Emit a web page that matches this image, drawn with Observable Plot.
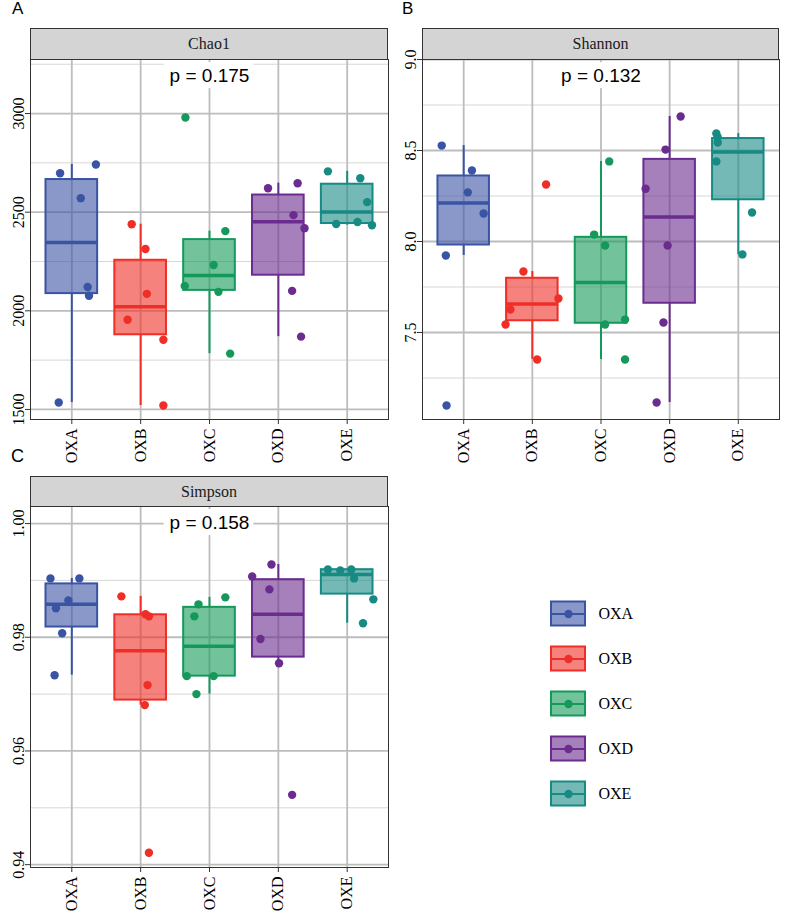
<!DOCTYPE html>
<html>
<head>
<meta charset="utf-8">
<script src="https://cdn.jsdelivr.net/npm/d3@7"></script>
<script src="https://cdn.jsdelivr.net/npm/@observablehq/plot@0.6"></script>
<style>
  html, body { margin: 0; padding: 0; background: #fff; }
  #root { position: relative; width: 785px; height: 917px; overflow: hidden; background: #fff; }
  .strip { position: absolute; box-sizing: border-box; background: #d4d4d4; border: 1px solid #333;
           font-family: "Liberation Serif", serif; font-size: 16px; color: #1a1a1a;
           display: flex; align-items: center; justify-content: center; }
  .tag { position: absolute; font-family: "Liberation Sans", Arial, sans-serif; line-height: 1; color: #000; }
</style>
</head>
<body>
<div id="root"></div>
<script>
// ---------------- data ----------------
const groups = ["OXA", "OXB", "OXC", "OXD", "OXE"];
const groupColors = ["#3A54A4", "#EE2E27", "#14995A", "#6A2C8E", "#178A84"];
const metricNames = ["Chao1", "Shannon", "Simpson"];
const panelTags = ["A", "B", "C"];
const pLabels = ["p = 0.175", "p = 0.132", "p = 0.158"];
const pLabelY = [3190, 8.909, 1.0001];

// Chao1 values per group (6 samples each) and their horizontal jitter (category units)
const chao1 = [
  [2697, 2742, 2571, 2121, 2076, 1535],
  [2439, 2313, 2086, 1955, 1853, 1520],
  [2980, 2404, 2232, 2126, 2096, 1783],
  [2621, 2647, 2485, 2419, 2101, 1869],
  [2707, 2672, 2551, 2440, 2450, 2434]
];
const chao1Jitter = [
  [-0.17, 0.35, 0.13, 0.23, 0.25, -0.19],
  [-0.13, 0.07, 0.09, -0.19, 0.33, 0.33],
  [-0.35, 0.23, 0.06, -0.36, 0.13, 0.30],
  [-0.15, 0.28, 0.22, 0.38, 0.20, 0.33],
  [-0.28, 0.19, 0.29, -0.16, 0.15, 0.36]
];
const shannon = [
  [8.527, 8.39, 8.27, 8.154, 7.923, 7.099],
  [8.313, 7.835, 7.687, 7.626, 7.544, 7.352],
  [8.44, 8.038, 7.978, 7.571, 7.544, 7.352],
  [8.687, 8.505, 8.29, 7.978, 7.555, 7.115],
  [8.593, 8.573, 8.544, 8.44, 8.159, 7.929]
];
const shannonJitter = [
  [-0.32, 0.12, 0.06, 0.29, -0.26, -0.25],
  [0.20, -0.13, 0.38, -0.32, -0.39, 0.07],
  [0.12, -0.10, 0.06, 0.35, 0.06, 0.35],
  [0.16, -0.06, -0.35, -0.03, -0.09, -0.19],
  [-0.32, -0.30, -0.30, -0.32, 0.20, 0.06]
];
const simpson = [
  [0.99035, 0.99035, 0.98649, 0.98509, 0.9807, 0.97333],
  [0.98719, 0.98404, 0.98368, 0.97158, 0.96807, 0.9421],
  [0.98702, 0.98579, 0.98368, 0.97316, 0.97316, 0.97],
  [0.99281, 0.9907, 0.98842, 0.9797, 0.97544, 0.95228],
  [0.99193, 0.99175, 0.99193, 0.99035, 0.98667, 0.98246]
];
const simpsonJitter = [
  [-0.31, 0.11, -0.05, -0.23, -0.14, -0.25],
  [-0.28, 0.07, 0.12, 0.10, 0.06, 0.12],
  [0.23, -0.16, -0.22, -0.33, 0.06, -0.19],
  [-0.10, -0.38, -0.13, -0.26, 0.01, 0.20],
  [-0.28, -0.10, 0.06, 0.10, 0.38, 0.23]
];

// axis ticks
const chao1Ticks = [1500, 2000, 2500, 3000];
const chao1Minor = [1750, 2250, 2750, 3250];
const chao1TickLabels = ["1500", "2000", "2500", "3000"];
const shannonTicks = [7.5, 8.0, 8.5, 9.0];
const shannonMinor = [7.25, 7.75, 8.25, 8.75];
const shannonTickLabels = ["7.5", "8.0", "8.5", "9.0"];
const simpsonTicks = [0.94, 0.96, 0.98, 1.00];
const simpsonMinor = [0.95, 0.97, 0.99];
const simpsonTickLabels = ["0.94", "0.96", "0.98", "1.00"];

// ---------------- layout ----------------
const layouts = [
  {left: 0,   top: 58,  width: 390, mL: 30, mR: 2, mT: 1, areaH: 360, mB: 56, domain: [1449, 3274],
   strip: {left: 30, top: 28, w: 358, h: 32}, tag: {left: 12, top: 0, size: 17}},
  {left: 390, top: 58,  width: 395, mL: 32, mR: 6, mT: 1, areaH: 360, mB: 56, domain: [7.022, 9.0],
   strip: {left: 422, top: 28, w: 357, h: 32}, tag: {left: 402, top: 0, size: 17}},
  {left: 0,   top: 505, width: 390, mL: 30, mR: 2, mT: 1, areaH: 361, mB: 50, domain: [0.9395, 1.003],
   strip: {left: 30, top: 476, w: 358, h: 31}, tag: {left: 11, top: 447, size: 18}}
];

const root = document.getElementById("root");
const serifStyle = {fontFamily: "'Liberation Serif', 'Times New Roman', serif", fontSize: "16px",
                    color: "#000", background: "transparent", overflow: "visible"};

function boxStats(values) {
  return values.map((arr, g) => {
    const s = arr.slice().sort(d3.ascending);
    const q1 = d3.quantile(s, 0.25), med = d3.quantile(s, 0.5), q3 = d3.quantile(s, 0.75);
    const iqr = q3 - q1;
    const lo = d3.min(s.filter(v => v >= q1 - 1.5 * iqr));
    const hi = d3.max(s.filter(v => v <= q3 + 1.5 * iqr));
    return {g: groups[g], x: g + 1, q1, med, q3, lo, hi};
  });
}

function makePanel(values, jitter, ticks, minor, tickLabels, pLabel, pY, L) {
  const pts = values.flatMap((arr, g) => arr.map((v, i) => ({g: groups[g], x: g + 1 + jitter[g][i], y: v})));
  const stats = boxStats(values);
  const half = 0.375;
  return Plot.plot({
    width: L.width,
    height: L.mT + L.areaH + L.mB,
    marginLeft: L.mL, marginRight: L.mR, marginTop: L.mT, marginBottom: L.mB,
    x: {domain: [0.4, 5.6]},
    y: {domain: L.domain},
    color: {domain: groups, range: groupColors},
    style: serifStyle,
    marks: [
      Plot.gridY(minor, {stroke: "#d7d7d7", strokeWidth: 1, strokeOpacity: 1}),
      Plot.gridY(ticks, {stroke: "#bdbdbd", strokeWidth: 1.8, strokeOpacity: 1}),
      Plot.gridX([1, 2, 3, 4, 5], {stroke: "#bdbdbd", strokeWidth: 1.8, strokeOpacity: 1}),
      Plot.text([pLabel], {x: 3, y: pY, text: d => d, fontSize: 19,
        fontFamily: "'Liberation Sans', Arial, sans-serif", fill: "#000", className: "plabel"}),
      Plot.ruleX(stats, {x: "x", y1: "lo", y2: "q1", stroke: "g", strokeWidth: 2}),
      Plot.ruleX(stats, {x: "x", y1: "q3", y2: "hi", stroke: "g", strokeWidth: 2}),
      Plot.rect(stats, {x1: d => d.x - half, x2: d => d.x + half, y1: "q1", y2: "q3",
        fill: "g", fillOpacity: 0.6, stroke: "g", strokeWidth: 2}),
      Plot.ruleY(stats, {x1: d => d.x - half, x2: d => d.x + half, y: "med", stroke: "g", strokeWidth: 3.5}),
      Plot.dot(pts, {x: "x", y: "y", fill: "g", r: 4.2}),
      Plot.frame({stroke: "#333", strokeWidth: 1}),
      Plot.axisX([1, 2, 3, 4, 5], {tickFormat: d => groups[d - 1], tickRotate: -90, tickSize: 5,
        tickPadding: 4, stroke: "#333", label: null}),
      Plot.axisY(ticks, {tickFormat: d => tickLabels[ticks.indexOf(d)], tickRotate: -90, tickSize: 5,
        tickPadding: 2, stroke: "#333", label: null})
    ]
  });
}

const panelData = [
  [chao1, chao1Jitter, chao1Ticks, chao1Minor, chao1TickLabels],
  [shannon, shannonJitter, shannonTicks, shannonMinor, shannonTickLabels],
  [simpson, simpsonJitter, simpsonTicks, simpsonMinor, simpsonTickLabels]
];

panelData.forEach(([vals, jit, ticks, minor, labels], k) => {
  const L = layouts[k];
  const svg = makePanel(vals, jit, ticks, minor, labels, pLabels[k], pLabelY[k], L);
  svg.style.position = "absolute";
  svg.style.left = L.left + "px";
  svg.style.top = L.top + "px";
  root.appendChild(svg);

  const strip = document.createElement("div");
  strip.className = "strip";
  strip.style.left = L.strip.left + "px";
  strip.style.top = L.strip.top + "px";
  strip.style.width = L.strip.w + "px";
  strip.style.height = L.strip.h + "px";
  strip.textContent = metricNames[k];
  root.appendChild(strip);

  const tag = document.createElement("div");
  tag.className = "tag";
  tag.style.left = L.tag.left + "px";
  tag.style.top = L.tag.top + "px";
  tag.style.fontSize = L.tag.size + "px";
  tag.textContent = panelTags[k];
  root.appendChild(tag);
});

// white box behind p-value labels
root.querySelectorAll("svg text").forEach(t => {
  if (!t.textContent.startsWith("p = ")) return;
  const g = t.parentNode;
  const b = g.getBBox();
  const r = document.createElementNS("http://www.w3.org/2000/svg", "rect");
  r.setAttribute("x", b.x - 6);
  r.setAttribute("y", b.y - 3);
  r.setAttribute("width", b.width + 10);
  r.setAttribute("height", b.height + 5);
  r.setAttribute("fill", "#fff");
  r.setAttribute("stroke", "none");
  g.insertBefore(r, g.firstChild);
});

// legend
const legend = Plot.plot({
  width: 120, height: 225,
  marginLeft: 0, marginRight: 0, marginTop: 0, marginBottom: 0,
  x: {domain: [0, 120], axis: null},
  y: {domain: groups, type: "band", padding: 0, axis: null},
  color: {domain: groups, range: groupColors},
  style: serifStyle,
  marks: [
    Plot.ruleX(groups, {x: 18, y: d => d, stroke: d => d, strokeWidth: 2, insetTop: 4, insetBottom: 4}),
    Plot.barX(groups, {x1: 1, x2: 35, y: d => d, fill: d => d, fillOpacity: 0.6, stroke: d => d,
      strokeWidth: 2, insetTop: 10.5, insetBottom: 10.5}),
    Plot.ruleY(groups, {y: d => d, x1: 1, x2: 35, stroke: d => d, strokeWidth: 2}),
    Plot.dot(groups, {x: 18, y: d => d, fill: d => d, r: 4.2}),
    Plot.text(groups, {x: 48, y: d => d, text: d => d, textAnchor: "start", fontSize: 16, fill: "#000"})
  ]
});
legend.style.position = "absolute";
legend.style.left = "550px";
legend.style.top = "591px";
root.appendChild(legend);
</script>
</body>
</html>
